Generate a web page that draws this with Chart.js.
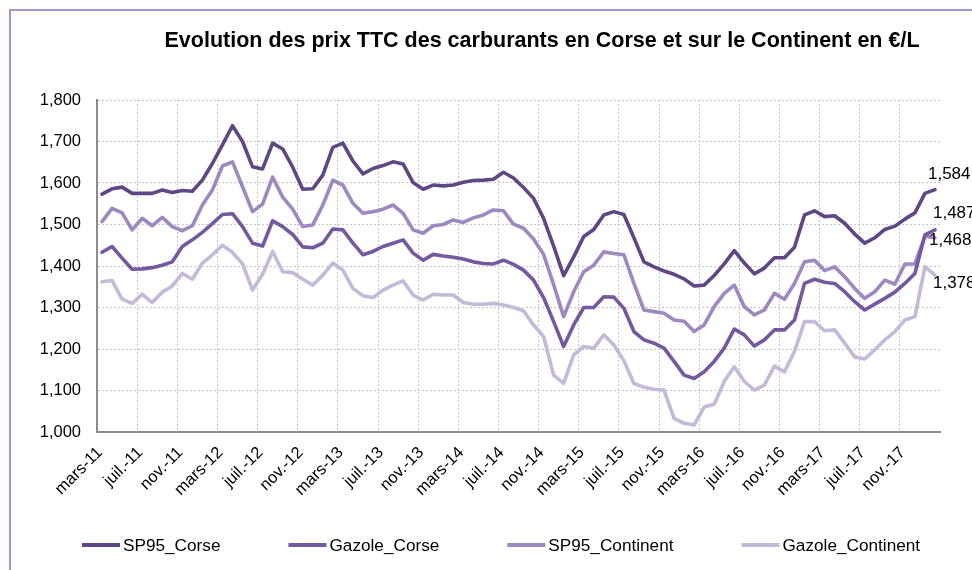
<!DOCTYPE html>
<html>
<head>
<meta charset="utf-8">
<script src="https://cdn.jsdelivr.net/npm/chart.js@4.4.1/dist/chart.umd.min.js"></script>
<style>
html, body { margin: 0; padding: 0; background: #ffffff; overflow: hidden; width: 972px; height: 570px; }
#frame { position: absolute; left: 9px; top: 9px; width: 1200px; height: 800px; border-left: 2px solid #a893c8; border-top: 2px solid #a893c8; }
#wrap { position: absolute; left: 0; top: 0; width: 1070px; height: 570px; }
</style>
</head>
<body>
<div id="frame"></div>
<div id="wrap"><canvas id="c" width="1070" height="570"></canvas></div>
<script>
// ---- Data ----
const months = [
  "mars-11","avr.-11","mai-11","juin-11","juil.-11","août-11","sept.-11","oct.-11","nov.-11","déc.-11",
  "janv.-12","févr.-12","mars-12","avr.-12","mai-12","juin-12","juil.-12","août-12","sept.-12","oct.-12","nov.-12","déc.-12",
  "janv.-13","févr.-13","mars-13","avr.-13","mai-13","juin-13","juil.-13","août-13","sept.-13","oct.-13","nov.-13","déc.-13",
  "janv.-14","févr.-14","mars-14","avr.-14","mai-14","juin-14","juil.-14","août-14","sept.-14","oct.-14","nov.-14","déc.-14",
  "janv.-15","févr.-15","mars-15","avr.-15","mai-15","juin-15","juil.-15","août-15","sept.-15","oct.-15","nov.-15","déc.-15",
  "janv.-16","févr.-16","mars-16","avr.-16","mai-16","juin-16","juil.-16","août-16","sept.-16","oct.-16","nov.-16","déc.-16",
  "janv.-17","févr.-17","mars-17","avr.-17","mai-17","juin-17","juil.-17","août-17","sept.-17","oct.-17","nov.-17","déc.-17",
  "janv.-18","févr.-18"
];

const sp95Corse = [
  1.573,1.586,1.590,1.575,1.575,1.575,1.583,1.577,1.582,1.580,
  1.607,1.647,1.692,1.738,1.700,1.639,1.634,1.696,1.682,1.638,1.585,1.586,
  1.619,1.686,1.696,1.653,1.622,1.635,1.642,1.651,1.646,1.601,1.585,1.595,
  1.593,1.595,1.602,1.606,1.607,1.609,1.626,1.612,1.589,1.563,1.515,1.448,
  1.377,1.422,1.471,1.488,1.523,1.531,1.524,1.468,1.410,1.398,1.388,1.380,
  1.369,1.352,1.354,1.377,1.405,1.437,1.407,1.381,1.395,1.420,1.420,1.445,
  1.523,1.533,1.519,1.521,1.503,1.477,1.455,1.468,1.488,1.496,1.513,1.528,
  1.575,1.584
];

const gazoleCorse = [
  1.433,1.447,1.419,1.392,1.393,1.396,1.402,1.410,1.447,1.463,
  1.481,1.502,1.524,1.526,1.495,1.455,1.448,1.509,1.495,1.476,1.446,1.444,
  1.455,1.489,1.487,1.455,1.427,1.435,1.447,1.455,1.463,1.431,1.414,1.428,
  1.424,1.421,1.417,1.410,1.406,1.405,1.414,1.404,1.390,1.366,1.324,1.266,
  1.206,1.258,1.300,1.300,1.326,1.325,1.298,1.242,1.222,1.214,1.202,1.170,
  1.137,1.129,1.145,1.170,1.202,1.248,1.234,1.207,1.222,1.246,1.246,1.270,
  1.358,1.368,1.361,1.358,1.338,1.314,1.294,1.308,1.322,1.337,1.358,1.382,
  1.475,1.487
];

const sp95Continent = [
  1.507,1.539,1.528,1.487,1.515,1.497,1.517,1.495,1.485,1.497,
  1.547,1.583,1.641,1.651,1.591,1.531,1.549,1.614,1.566,1.537,1.495,1.499,
  1.547,1.607,1.595,1.551,1.527,1.531,1.537,1.547,1.527,1.487,1.479,1.497,
  1.500,1.511,1.505,1.516,1.523,1.535,1.533,1.501,1.491,1.465,1.428,1.355,
  1.278,1.338,1.386,1.402,1.434,1.430,1.427,1.358,1.294,1.290,1.286,1.270,
  1.267,1.242,1.258,1.302,1.334,1.354,1.302,1.282,1.294,1.334,1.320,1.358,
  1.410,1.414,1.389,1.398,1.374,1.346,1.322,1.338,1.366,1.356,1.405,1.405,
  1.472,1.468
];

const gazoleContinent = [
  1.362,1.365,1.320,1.310,1.332,1.312,1.337,1.352,1.382,1.368,
  1.407,1.427,1.450,1.433,1.405,1.342,1.380,1.435,1.386,1.384,1.368,1.354,
  1.378,1.407,1.390,1.346,1.328,1.324,1.342,1.354,1.364,1.330,1.318,1.332,
  1.330,1.330,1.312,1.308,1.308,1.310,1.306,1.300,1.292,1.258,1.230,1.137,
  1.117,1.186,1.206,1.202,1.234,1.210,1.172,1.117,1.108,1.103,1.101,1.033,
  1.021,1.017,1.060,1.067,1.122,1.157,1.122,1.101,1.113,1.159,1.145,1.194,
  1.266,1.266,1.244,1.246,1.214,1.181,1.176,1.198,1.222,1.242,1.270,1.278,
  1.398,1.378
];

const seriesNames = ["SP95_Corse", "Gazole_Corse", "SP95_Continent", "Gazole_Continent"];
const seriesColors = ["#5e4784", "#7459a0", "#9d89bf", "#c4b9d8"];
const yMin = 1.0, yMax = 1.8, yStep = 0.1;

// ---- Chart ----
const FONT = '"Liberation Sans", Arial, Helvetica, sans-serif';
const fmt = v => Number(v).toFixed(3).replace('.', ',');

// offsets for the end-of-series value labels (dx, dy in px)
const endLabelOffsets = [[-7, -15], [-2, -17], [-6, 3], [-2, 8]];

const endLabelsPlugin = {
  id: 'endLabels',
  afterDatasetsDraw(chart) {
    const ctx = chart.ctx;
    ctx.save();
    ctx.font = '17px ' + FONT;
    ctx.fillStyle = '#000000';
    ctx.textAlign = 'left';
    ctx.textBaseline = 'middle';
    chart.data.datasets.forEach((ds, i) => {
      const meta = chart.getDatasetMeta(i);
      const last = meta.data.length - 1;
      const pt = meta.data[last];
      const off = endLabelOffsets[i];
      ctx.fillText(fmt(ds.data[last]), pt.x + off[0], pt.y + off[1]);
    });
    ctx.restore();
  }
};

// bottom legend (line swatch + series name), spaced like the reference
const legendStyle = { startX: 82, centerY: 545, swatch: 38, gapText: 3, gapItem: 68, lineWidth: 4, fontSize: 17.2 };
const bottomLegendPlugin = {
  id: 'bottomLegend',
  afterDraw(chart) {
    const ctx = chart.ctx;
    const st = legendStyle;
    ctx.save();
    ctx.font = st.fontSize + 'px ' + FONT;
    ctx.textAlign = 'left';
    ctx.textBaseline = 'middle';
    let x = st.startX;
    chart.data.datasets.forEach(ds => {
      ctx.strokeStyle = ds.borderColor;
      ctx.lineWidth = st.lineWidth;
      ctx.lineCap = 'butt';
      ctx.beginPath();
      ctx.moveTo(x, st.centerY);
      ctx.lineTo(x + st.swatch, st.centerY);
      ctx.stroke();
      const tx = x + st.swatch + st.gapText;
      ctx.fillStyle = '#000000';
      ctx.fillText(ds.label, tx, st.centerY + 1);
      x = tx + ctx.measureText(ds.label).width + st.gapItem;
    });
    ctx.restore();
  }
};

const allSeries = [sp95Corse, gazoleCorse, sp95Continent, gazoleContinent];

new Chart(document.getElementById('c'), {
  type: 'line',
  data: {
    labels: months,
    datasets: allSeries.map((arr, i) => ({
      label: seriesNames[i],
      data: arr,
      borderColor: seriesColors[i],
      backgroundColor: seriesColors[i],
      borderWidth: 3.6,
      pointRadius: 0,
      pointHoverRadius: 0,
      tension: 0,
      borderJoinStyle: 'round',
      borderCapStyle: 'round',
      fill: false
    }))
  },
  options: {
    responsive: false,
    animation: false,
    devicePixelRatio: 1,
    layout: { padding: { left: 14, right: 0, top: 0, bottom: 38 } },
    plugins: {
      title: {
        display: true,
        text: 'Evolution des prix TTC des carburants en Corse et sur le Continent en €/L',
        color: '#000000',
        font: { family: FONT, size: 21.5, weight: 'bold' },
        padding: { top: 28.5, bottom: 45.7 }
      },
      legend: { display: false },
      tooltip: { enabled: false }
    },
    scales: {
      x: {
        type: 'category',
        offset: true,
        grid: {
          display: true,
          offset: true,
          drawTicks: false,
          lineWidth: 1,
          color: ctx => (ctx.index % 4 === 0 ? '#c6c6c6' : 'rgba(0,0,0,0)')
        },
        border: { display: true, color: '#8c8c8c', width: 2, dash: [2, 2] },
        ticks: {
          autoSkip: false,
          minRotation: 45,
          maxRotation: 45,
          padding: 11,
          labelOffset: -2,
          color: '#000000',
          font: { family: FONT, size: 16.5 },
          callback: function (v, i) { return i % 4 === 0 ? this.getLabelForValue(v) : ''; }
        },
        afterFit: s => { s.height = 100; }
      },
      y: {
        position: 'left',
        min: yMin,
        max: yMax,
        grid: { display: true, drawTicks: false, color: '#c6c6c6', lineWidth: 1 },
        border: { display: true, color: '#8c8c8c', width: 2, dash: [2, 2] },
        ticks: {
          stepSize: yStep,
          padding: 16,
          color: '#000000',
          font: { family: FONT, size: 16.5 },
          callback: v => fmt(v)
        },
        afterFit: s => { s.width = 83; }
      },
      yR: {
        position: 'right',
        display: true,
        grid: { display: false },
        border: { display: false },
        ticks: { display: false },
        afterFit: s => { s.width = 130; }
      }
    }
  },
  plugins: [endLabelsPlugin, bottomLegendPlugin]
});
</script>
</body>
</html>
